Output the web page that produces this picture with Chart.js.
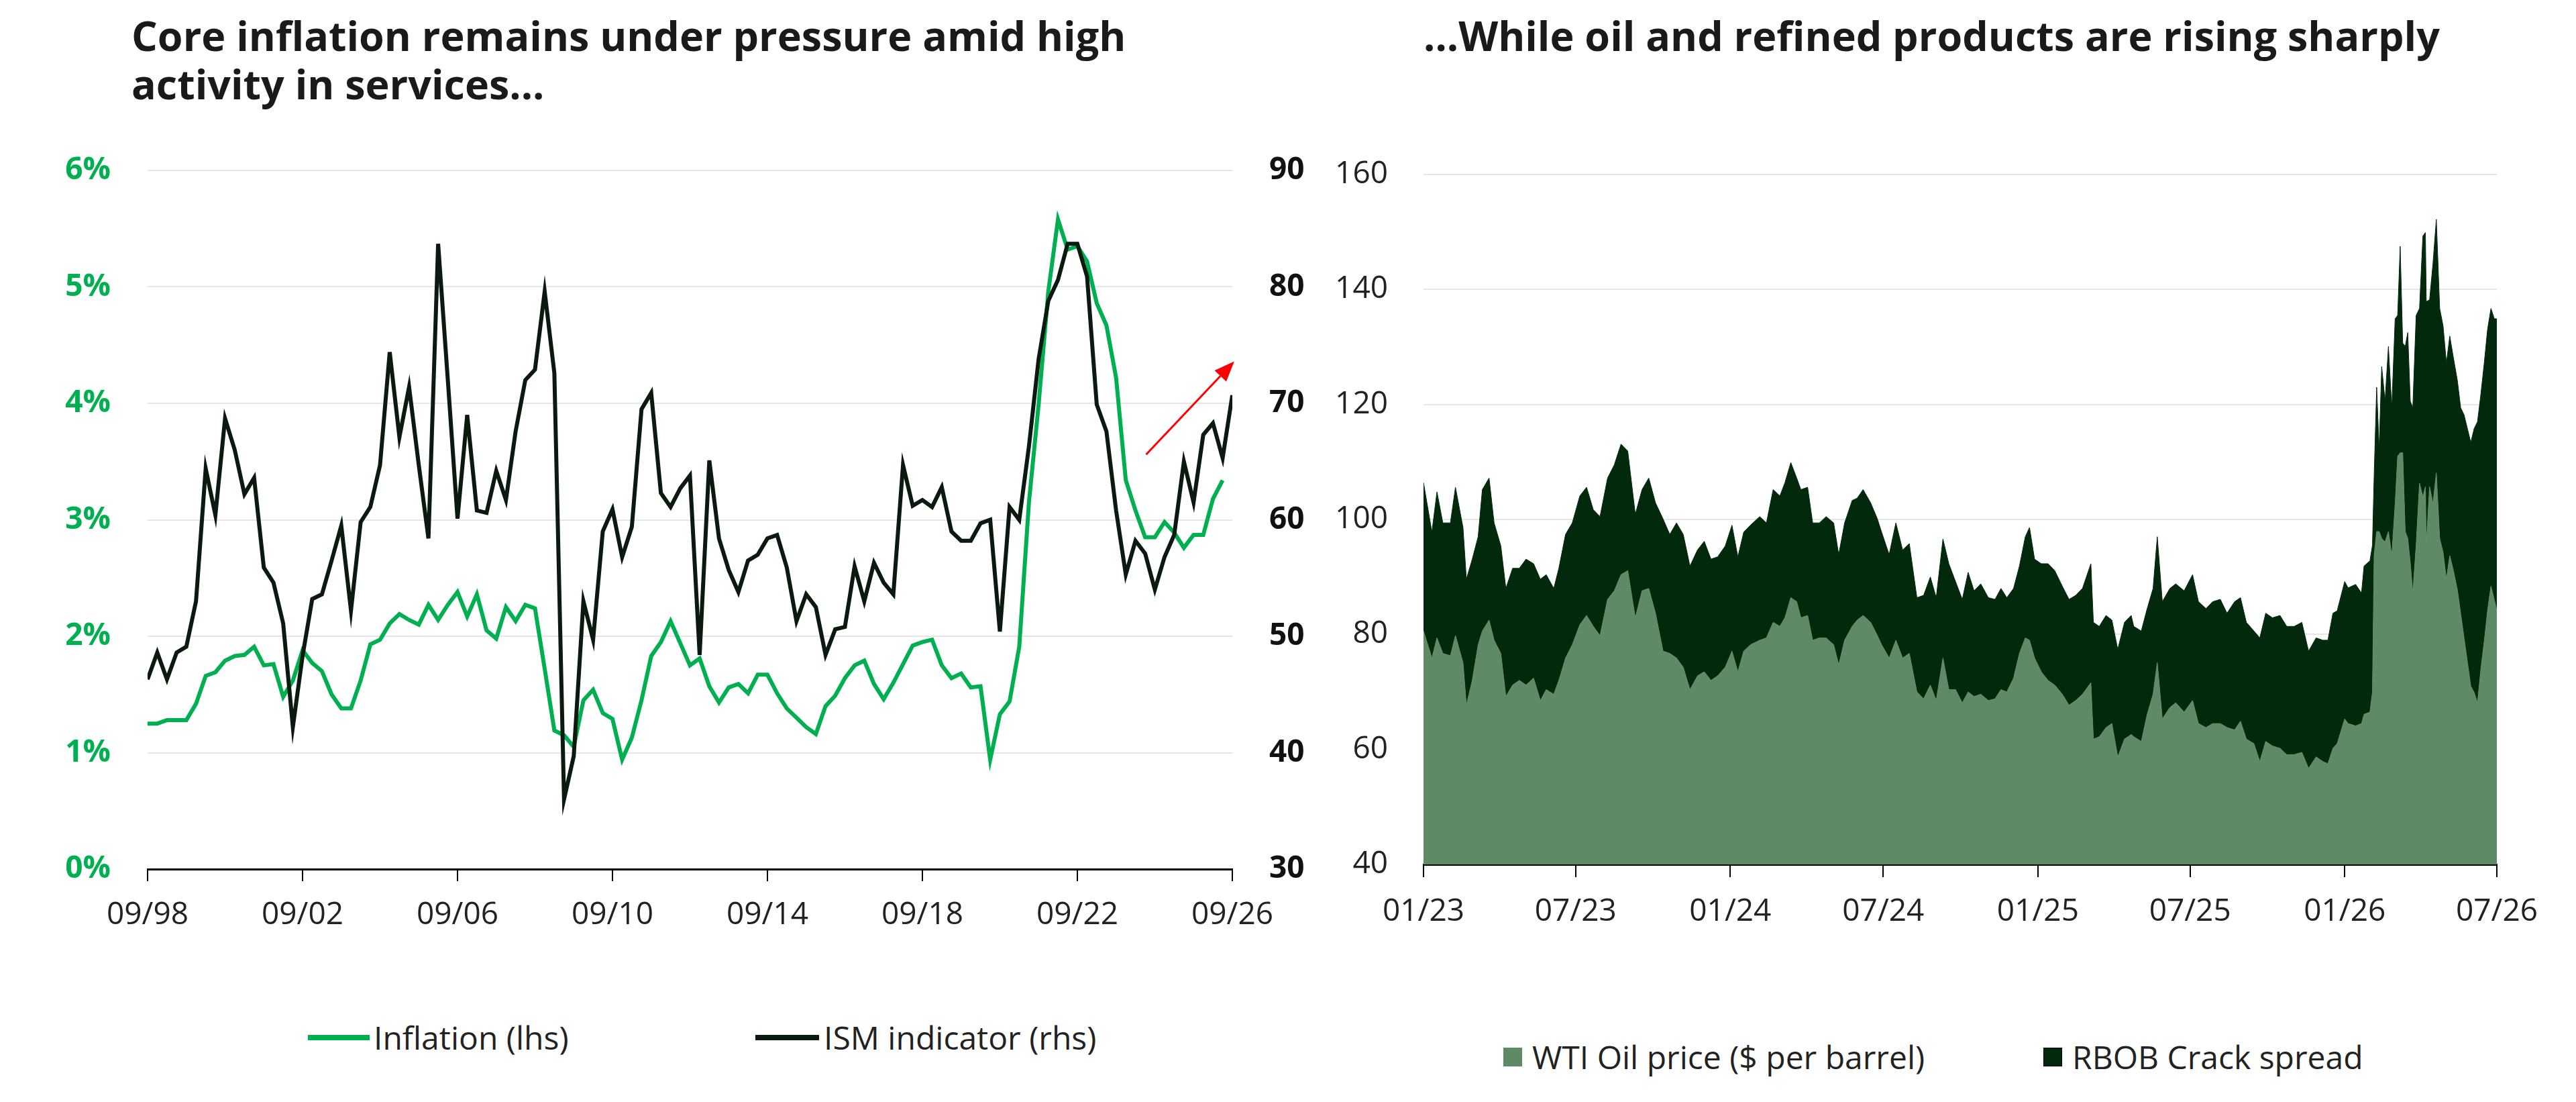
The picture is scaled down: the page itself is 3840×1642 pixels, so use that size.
<!DOCTYPE html>
<html>
<head>
<meta charset="utf-8">
<script src="https://cdn.jsdelivr.net/npm/chart.js@4.4.1/dist/chart.umd.min.js"></script>
<style>
  body { margin: 0; width: 3840px; height: 1642px; background: #fff; position: relative; overflow: hidden; font-family: "Open Sans", sans-serif; color: #1a1a1a; }
  .title { position: absolute; top: 17px; font-size: 61px; font-weight: 700; line-height: 72px; white-space: nowrap; }
  .box { position: absolute; }
  .leg { position: absolute; font-size: 48px; line-height: 56px; white-space: nowrap; color: #222; }
  .sw { position: absolute; }
</style>
</head>
<body>
<div class="title" style="left:196px">Core inflation remains under pressure amid high<br>activity in services...</div>
<div class="title" style="left:2122px">...While oil and refined products are rising sharply</div>

<div class="box" style="left:0; top:214px; width:1960px; height:1201px"><canvas id="left"></canvas></div>
<div class="box" style="left:1960px; top:220px; width:1880px; height:1188px"><canvas id="right"></canvas></div>

<div class="sw" style="left:459px; top:1542px; width:92px; height:8px; background:#00b050"></div>
<div class="leg" style="left:557px; top:1518px">Inflation (lhs)</div>
<div class="sw" style="left:1126px; top:1542px; width:95px; height:8px; background:#0b1a0e"></div>
<div class="leg" style="left:1228px; top:1518px">ISM indicator (rhs)</div>

<div class="sw" style="left:2241px; top:1561px; width:28px; height:28px; background:#5e8a66"></div>
<div class="leg" style="left:2284px; top:1547px">WTI Oil price ($ per barrel)</div>
<div class="sw" style="left:3046px; top:1561px; width:26px; height:26px; background:#03290c; border:1px solid #000"></div>
<div class="leg" style="left:3089px; top:1547px">RBOB Crack spread</div>

<script>
// left chart: quarterly, index 0 = 09/98
const inflation = [
  1.25, 1.25, 1.28, 1.28, 1.28, 1.42, 1.66, 1.69, 1.79, 1.83,
  1.84, 1.91, 1.75, 1.76, 1.48, 1.62, 1.88, 1.77, 1.70, 1.50,
  1.38, 1.38, 1.62, 1.93, 1.97, 2.11, 2.19, 2.14, 2.10, 2.27,
  2.14, 2.27, 2.38, 2.17, 2.36, 2.05, 1.98, 2.25, 2.13, 2.27,
  2.24, 1.72, 1.19, 1.15, 1.05, 1.45, 1.54, 1.34, 1.29, 0.94,
  1.13, 1.45, 1.83, 1.95, 2.13, 1.94, 1.75, 1.81, 1.57, 1.43,
  1.56, 1.59, 1.51, 1.67, 1.67, 1.51, 1.38, 1.30, 1.22, 1.16,
  1.40, 1.49, 1.64, 1.75, 1.79, 1.59, 1.46, 1.60, 1.76, 1.92,
  1.95, 1.97, 1.75, 1.64, 1.68, 1.56, 1.57, 0.94, 1.33, 1.44,
  1.91, 3.15, 3.99, 4.96, 5.58, 5.32, 5.35, 5.22, 4.86, 4.67,
  4.22, 3.34, 3.08, 2.85, 2.85, 2.98, 2.89, 2.76, 2.87, 2.87,
  3.18, 3.34
];
const ism = [
  46.3, 48.6, 46.3, 48.6, 49.1, 53.0, 64.4, 60.4, 68.7, 66.0,
  62.2, 63.6, 55.9, 54.6, 51.1, 42.2, 48.3, 53.2, 53.6, 56.5,
  59.5, 52.2, 59.8, 61.1, 64.7, 74.4, 67.1, 71.4, 64.7, 58.4,
  83.7, 72.0, 60.1, 69.0, 60.8, 60.6, 64.2, 61.7, 67.6, 72.0,
  72.9, 79.6, 72.6, 36.0, 39.7, 53.0, 49.7, 59.0, 60.9, 56.8,
  59.4, 69.5, 70.9, 62.3, 61.1, 62.7, 63.8, 48.4, 65.1, 58.4,
  55.7, 53.8, 56.5, 57.0, 58.4, 58.7, 55.9, 51.3, 53.6, 52.5,
  48.4, 50.6, 50.8, 56.0, 53.0, 56.3, 54.6, 53.6, 64.7, 61.2,
  61.7, 61.1, 62.8, 59.0, 58.2, 58.2, 59.7, 60.0, 50.4, 61.1,
  60.0, 66.3, 73.8, 78.8, 80.6, 83.7, 83.7, 80.9, 69.9, 67.6,
  60.8, 55.3, 58.2, 57.1, 54.0, 56.8, 58.7, 65.0, 61.5, 67.3,
  68.3, 65.3, 70.7
];
const leftTickIdx = [0, 16, 32, 48, 64, 80, 96, 112];
const leftTickLabels = ['09/98', '09/02', '09/06', '09/10', '09/14', '09/18', '09/22', '09/26'];
const arrowFrom = [103.1, 65.6];
const arrowTo = [112.2, 73.6];

// right chart: days since 01/01/2023
const oilDays = [
  0, 10, 16, 23, 32, 38, 47, 51, 58, 65, 70, 78, 84, 92, 98, 106, 114, 122, 131, 139,
  146, 155, 161, 169, 177, 186, 194, 202, 210, 219, 227, 235, 243, 252, 260, 268, 276, 285, 293, 301,
  309, 317, 326, 334, 342, 350, 359, 367, 374, 381, 389, 400, 408, 416,
  424, 430, 437, 444, 449, 457, 463, 471, 479, 488, 494, 501, 510, 516, 523, 532, 540, 545, 554, 562,
  570, 578, 587, 595, 603, 610, 618, 625, 633, 641, 648, 655, 663, 672, 680, 687, 694, 702, 709, 716,
  721, 727, 735, 743, 751, 760, 768, 776, 784, 794, 797, 804, 812, 819, 826, 834, 842,
  845, 854, 861, 868, 873, 879, 888, 895, 905, 915, 922, 931, 939, 948, 956, 965, 972, 979, 988, 995,
  1002, 1010, 1019, 1027, 1036, 1045, 1053, 1062, 1070, 1076, 1082, 1087, 1096,
  1100, 1109, 1116, 1119, 1126, 1129, 1131, 1134, 1137, 1140, 1144, 1148, 1152, 1156, 1159, 1162, 1165, 1168, 1171, 1174,
  1177, 1181, 1185, 1189, 1192, 1193, 1197, 1201, 1205, 1209, 1213, 1217, 1221, 1225, 1230, 1234, 1238, 1242, 1246, 1250,
  1254, 1258, 1262, 1266, 1270, 1274, 1277
];
const wti = [
  80.6, 75.9, 79.4, 76.7, 76.3, 79.8, 75.1, 67.7, 72.0, 78.2, 80.6, 82.5, 79.0, 76.7, 69.2, 71.2, 72.0, 71.2, 72.4, 68.5,
  70.4, 69.6, 72.0, 75.9, 78.2, 81.7, 83.3, 81.4, 79.8, 86.1, 87.6, 90.4, 91.1, 82.9, 87.6, 88.0, 83.7, 77.1, 76.7, 75.9,
  74.3, 70.4, 72.8, 73.5, 72.0, 72.8, 74.3, 77.1, 73.5, 77.1, 78.2, 79.0, 79.4, 82.1,
  81.4, 82.9, 86.4, 85.7, 82.9, 83.3, 79.0, 79.4, 79.4, 78.2, 74.7, 79.0, 81.4, 82.5, 83.3, 82.1, 79.8, 78.2, 75.9, 79.0,
  75.9, 76.7, 70.0, 68.8, 71.2, 68.5, 75.9, 70.4, 70.4, 68.1, 70.0, 69.2, 69.6, 68.5, 68.8, 70.4, 70.0, 72.4, 76.7, 79.4,
  79.0, 75.9, 73.5, 72.0, 71.2, 69.6, 67.7, 68.5, 69.6, 71.6, 61.8, 62.2, 63.8, 64.5, 58.7, 61.8, 62.6,
  62.2, 61.4, 66.1, 69.6, 75.1, 65.3, 67.3, 68.1, 66.5, 68.5, 64.5, 63.8, 64.5, 64.5, 63.8, 63.4, 64.9, 61.8, 61.0, 57.9,
  61.4, 60.6, 60.2, 59.1, 59.1, 59.5, 56.7, 58.7, 57.9, 57.5, 60.2, 61.0, 65.3,
  64.5, 64.1, 64.5, 66.1, 66.5, 70.0, 93.7, 97.9, 97.9, 96.7, 96.1, 97.9, 93.7, 102.7, 111.0, 111.6, 111.6, 97.9, 96.7, 92.5,
  87.2, 95.5, 106.3, 103.9, 105.7, 95.5, 105.7, 102.7, 108.1, 96.7, 94.3, 89.6, 93.7, 91.3, 87.8, 83.6, 79.4, 75.2, 71.0, 69.9,
  68.1, 74.0, 78.8, 84.2, 88.4, 86.0, 84.2
];
// top edge of the stack (WTI + RBOB crack spread)
const stackTop = [
  106.4, 97.8, 104.8, 99.4, 99.4, 105.6, 98.6, 89.6, 93.1, 97.0, 105.2, 107.2, 99.4, 95.4, 88.0, 91.5, 91.5, 93.1, 92.3, 89.6,
  90.4, 88.0, 91.5, 97.4, 99.4, 104.1, 105.6, 101.7, 100.5, 107.2, 109.5, 113.1, 111.9, 100.9, 105.2, 107.2, 102.9, 100.1, 97.4, 99.4,
  97.4, 91.9, 94.7, 96.2, 93.1, 93.5, 95.4, 99.0, 93.5, 97.8, 99.0, 100.5, 99.4, 105.2,
  104.1, 106.4, 109.9, 107.2, 105.2, 105.6, 99.4, 99.4, 100.5, 99.4, 93.9, 99.4, 103.3, 103.7, 105.2, 102.9, 100.1, 97.8, 93.9, 99.4,
  94.7, 95.8, 86.4, 86.8, 90.0, 86.4, 96.6, 92.3, 89.2, 86.1, 90.8, 87.6, 88.8, 86.4, 86.1, 88.0, 86.4, 88.0, 91.9, 97.0,
  98.6, 93.1, 92.3, 92.3, 91.1, 88.4, 86.1, 86.8, 88.0, 92.3, 82.1, 81.4, 83.3, 82.5, 77.4, 82.1, 83.3,
  81.4, 80.6, 84.5, 88.0, 97.0, 85.7, 88.0, 88.8, 87.6, 90.4, 85.7, 84.5, 85.7, 86.1, 83.7, 85.7, 86.4, 82.1, 80.6, 79.4,
  83.7, 82.9, 83.3, 81.4, 81.4, 82.1, 77.1, 79.4, 79.0, 79.0, 83.7, 84.1, 89.2,
  88.1, 88.7, 87.2, 91.9, 92.8, 95.5, 107.5, 123.0, 112.2, 126.6, 120.6, 130.1, 119.4, 134.9, 135.5, 147.5, 130.7, 130.1, 132.5, 120.6,
  119.4, 135.5, 136.7, 149.3, 149.9, 137.9, 138.2, 144.5, 152.2, 136.7, 133.7, 127.2, 131.9, 128.4, 124.2, 119.4, 118.2, 115.8, 113.4, 115.8,
  117.0, 121.8, 127.2, 133.1, 136.7, 134.9, 134.9
];
const rightTickDays = [0, 181, 365, 547, 731, 912, 1096, 1277];
const rightTickLabels = ['01/23', '07/23', '01/24', '07/24', '01/25', '07/25', '01/26', '07/26'];

const tickFont = { family: 'Open Sans', size: 46 };

// vertical axes: fixed width, and no extra label padding pushed into the layout
const fixY = w => s => { s.width = w; s.paddingTop = 0; s.paddingBottom = 0; };

const arrowPlugin = {
  id: 'redArrow',
  afterDatasetsDraw(chart) {
    const xs = chart.scales.x, ys = chart.scales.y1, ctx = chart.ctx;
    const x0 = xs.getPixelForValue(arrowFrom[0]), y0 = ys.getPixelForValue(arrowFrom[1]);
    const x1 = xs.getPixelForValue(arrowTo[0]), y1 = ys.getPixelForValue(arrowTo[1]);
    const a = Math.atan2(y1 - y0, x1 - x0), len = 30, w = 12;
    const bx = x1 - len * Math.cos(a), by = y1 - len * Math.sin(a);
    ctx.save();
    ctx.strokeStyle = '#ff0000';
    ctx.fillStyle = '#ff0000';
    ctx.lineWidth = 3;
    ctx.beginPath();
    ctx.moveTo(x0, y0);
    ctx.lineTo(bx, by);
    ctx.stroke();
    ctx.beginPath();
    ctx.moveTo(x1, y1);
    ctx.lineTo(bx + w * Math.sin(a), by - w * Math.cos(a));
    ctx.lineTo(bx - w * Math.sin(a), by + w * Math.cos(a));
    ctx.closePath();
    ctx.fill();
    ctx.restore();
  }
};

new Chart(document.getElementById('left'), {
  type: 'line',
  data: {
    datasets: [
      {
        label: 'Inflation (lhs)',
        data: inflation.map((v, i) => ({ x: i, y: v })),
        yAxisID: 'y',
        borderColor: '#00b050',
        borderWidth: 6,
        pointRadius: 0,
        order: 2
      },
      {
        label: 'ISM indicator (rhs)',
        data: ism.map((v, i) => ({ x: i, y: v })),
        yAxisID: 'y1',
        borderColor: '#0b1a0e',
        borderWidth: 6,
        pointRadius: 0,
        order: 1
      }
    ]
  },
  options: {
    responsive: true,
    maintainAspectRatio: false,
    devicePixelRatio: 1,
    animation: false,
    events: [],
    layout: { padding: { top: 40, left: 0, right: 0, bottom: 0 } },
    plugins: { legend: { display: false }, tooltip: { enabled: false } },
    scales: {
      x: {
        type: 'linear',
        min: 0,
        max: 112,
        afterBuildTicks: s => { s.ticks = leftTickIdx.map(v => ({ value: v })); },
        afterFit: s => { s.height = 120; },
        ticks: {
          font: tickFont,
          color: '#222',
          padding: 23,
          maxRotation: 0,
          callback: v => leftTickLabels[leftTickIdx.indexOf(v)]
        },
        grid: { drawOnChartArea: false, drawTicks: true, tickLength: 18, color: '#000', lineWidth: 2 },
        border: { color: '#000', width: 3 }
      },
      y: {
        position: 'left',
        min: 0,
        max: 6,
        afterFit: fixY(220),
        ticks: {
          stepSize: 1,
          font: { family: 'Open Sans', size: 46, weight: 'bold' },
          color: '#00b050',
          padding: 55,
          callback: v => v + '%'
        },
        grid: { color: '#e6e6e6', lineWidth: 2, drawTicks: false },
        border: { display: false }
      },
      y1: {
        position: 'right',
        min: 30,
        max: 90,
        afterFit: fixY(123),
        ticks: {
          stepSize: 10,
          font: { family: 'Open Sans', size: 46, weight: 'bold' },
          color: '#111',
          padding: 55
        },
        grid: { drawOnChartArea: false, drawTicks: false },
        border: { display: false }
      }
    }
  },
  plugins: [arrowPlugin]
});

new Chart(document.getElementById('right'), {
  type: 'line',
  data: {
    datasets: [
      {
        label: 'WTI Oil price ($ per barrel)',
        data: oilDays.map((d, i) => ({ x: d, y: wti[i] })),
        borderColor: '#5e8a66',
        backgroundColor: '#5e8a66',
        borderWidth: 1,
        pointRadius: 0,
        fill: 'start'
      },
      {
        label: 'RBOB Crack spread',
        data: oilDays.map((d, i) => ({ x: d, y: stackTop[i] })),
        borderColor: '#03290c',
        backgroundColor: '#03290c',
        borderWidth: 1,
        pointRadius: 0,
        fill: '-1'
      }
    ]
  },
  options: {
    responsive: true,
    maintainAspectRatio: false,
    devicePixelRatio: 1,
    animation: false,
    events: [],
    layout: { padding: { top: 40, left: 0, right: 118, bottom: 0 } },
    plugins: { legend: { display: false }, tooltip: { enabled: false } },
    scales: {
      x: {
        type: 'linear',
        min: 0,
        max: 1277,
        afterBuildTicks: s => { s.ticks = rightTickDays.map(v => ({ value: v })); },
        afterFit: s => { s.height = 120; },
        ticks: {
          font: tickFont,
          color: '#222',
          padding: 24,
          maxRotation: 0,
          callback: v => rightTickLabels[rightTickDays.indexOf(v)]
        },
        grid: { drawOnChartArea: false, drawTicks: true, tickLength: 19, color: '#000', lineWidth: 2 },
        border: { color: '#000', width: 3 }
      },
      y: {
        min: 40,
        max: 160,
        afterFit: fixY(162),
        ticks: { stepSize: 20, font: tickFont, color: '#222', padding: 53 },
        grid: { color: '#e6e6e6', lineWidth: 2, drawTicks: false },
        border: { display: false }
      }
    }
  }
});
</script>
</body>
</html>
